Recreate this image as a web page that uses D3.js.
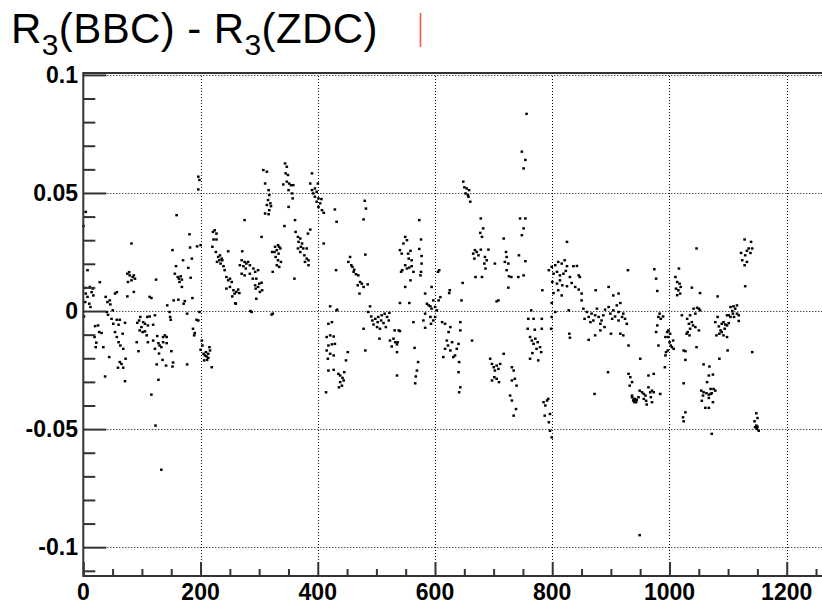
<!DOCTYPE html>
<html>
<head>
<meta charset="utf-8">
<script src="https://cdn.jsdelivr.net/npm/d3@7"></script>
<style>
body{margin:0;background:#fff;}
text{font-family:"Liberation Sans",Arial,Helvetica,sans-serif;}
</style>
</head>
<body>
<script>
//data, [run, R3(BBC)-R3(ZDC)] split by run range
var seg0 = [[0,.036],[4,.042],[7,.0173],[3,.0098],[11,.0102],[16,.0095],[4,.0074],[14,.008],[7,.006],[17,.0066],[3,.0038],[10,.0031],[12,.0017],[1,-.0023],[20,-.0064],[25,-.0061],[19,-.011],[22,-.0134],[21,-.0153],[27,-.0089],[31,-.0093],[34,-.0153],[37,-.0277],[28,.0122],
[38,.006],[41,.0038],[45,.0045],[46,.0028],[50,.0003],[54,.0074],[57,.008],[40,-.0004],[42,-.0016],[48,-.0033],[51,-.0054],[57,-.0037],[60,-.0058],[62,-.0037],[54,-.0089],[57,-.011],[60,-.0132],[63,-.0146],[67,-.0096],[68,-.016],[71,-.005],[44,-.0195],[59,-.024],[62,-.0216],[65,-.0224],[68,-.024],[72,-.0202],[71,-.0297],
[75,.0158],[78,.0165],[79,.0151],[84,.0144],[86,.0151],[76,.0123],[82,.013],[88,.0137],[82,.0286],[75,.0062],[86,.0081],
[92,-.005],[95,-.004],[97,-.0025],[99,-.0068],[102,-.0047],[105,-.0054],[96,-.0082],[101,-.0089],[105,-.0086],[108,-.0103],[91,-.0132],[94,-.017],[109,-.0025],[110,-.0061],[113,-.0023],[116,.0055],[113,.006],[119,-.0058],[122,-.0018],[124,.0133],[110,-.0132],[119,-.0125],[122,-.016],[128,-.0136],[130,-.0146],[133,-.0153],[136,-.011],[126,-.0106],[136,-.0132],[129,-.018],[139,-.0103],[142,-.011],[125,-.0226],[135,-.0207],[142,-.0136],[141,-.0231],[150,-.017],[153,-.0218],[152,-.0235],[128,-.0291],[116,-.0354],[123,-.0485],[133,-.0672],
[143,.0024],[147,-.0004],[148,-.0025],[149,-.0037],[152,.0258],[159,.0406],[154,.0045],[158,.019],[156,.0158],[161,.0144],[163,.0137],[166,.0147],[168,.0133],[164,.0123],[168,.0102],[170,.0215],[162,.0048],[173,.0042],[171,.0031],[177,-.0011],[179,.0183],[181,.0325],[182,.0269],[183,.0141],[185,.0222],[186,.0055],[187,-.0075],[177,-.0226],[190,-.0093],[189,-.0103],[193,-.0037],[194,.0274],[196,.0569],[198,.0555],[196,.0515],[196,-.004],[198,-.0004]];

var seg1 = [[200,.0279],[202,-.0125],[203,-.0146],[200,-.0164],[205,-.0181],[207,-.0188],[210,-.0192],[213,-.0181],[215,-.0153],[211,-.0207],[206,-.0209],[216,-.0167],[219,-.0238],[209,-.0174],[213,-.0198],
[221,.0335],[224,.0342],[227,.0328],[222,.0303],[227,.0303],[220,.0272],[226,.025],[230,.0229],[232,.0215],[234,.0201],[237,.0215],[239,.019],[241,.0173],[233,.0236],[236,.0222],[228,.0208],[247,.0253],[244,.0144],[247,.013],[250,.0137],[253,.0123],[244,.0095],[250,.0102],[256,.0088],[258,.0074],[261,.0081],[260,.0031],[264,.0091],[254,.0062],[266,.0076],[259,.0033],
[271,.0253],[270,.0215],[275,.0208],[278,.0201],[281,.0208],[273,.019],[277,.018],[284,.0194],[267,.0194],[270,.0158],[275,.0151],[284,.0158],[290,.018],[293,.0166],[295,.0137],[298,.0173],[289,.0137],[293,.0109],[298,.0102],[300,.0116],[301,.0081],[294,.0095],[295,.0052],[287,-.0004],[285,0],[275,.0385],[304,.0314],[304,.012],[305,.0088],
[307,.0597],[313,.059],[310,.054],[316,.0512],[317,.0491],[315,.047],[319,.0456],[313,.0449],[320,.0444],[317,.0427],[316,.041],[310,.0413],[322,.025],[323,.0166],[323,-.0011],[321,-.0015],
[327,.0272],[332,.0279],[334,.0272],[336,.0265],[330,.0258],[326,.025],[333,.0243],[328,.0229],[332,.0215],[337,.0208],[330,.0194],[334,.0187],
[344,.0625],[347,.0611],[345,.0583],[349,.0576],[341,.0536],[347,.0548],[351,.054],[354,.0533],[358,.0533],[350,.0512],[356,.0498],[357,.0477],[350,.0441],[343,.036],[361,.0385],[362,.0335],[366,.0314],[370,.0307],[367,.0293],[373,.0286],[371,.0272],[366,.0265],[375,.0265],[381,.0265],[383,.0328],[387,.0345],[370,.025],[377,.0236],[381,.0222],[384,.0215],[378,.0208],[384,.0194],[360,.0137],
[390,.0583],[387,.054],[395,.0519],[390,.0512],[398,.0505],[392,.0498],[395,.0484],[401,.0477],[398,.0463],[404,.0456],[401,.0441],[407,.0427],[410,.0416],[400,.054],[406,.0474]];

var seg2 = [[410,.0286],[418,-.0054],[421,.002],[429,.043],[432,.0378],[431,.0173],[424,-.0047],[432,.0003],[433,.0006],
[415,-.011],[421,-.0103],[427,-.0108],[418,-.0146],[424,-.0141],[429,-.0139],[415,-.0167],[421,-.0181],[417,-.0202],[427,-.0188],[418,-.0252],[427,-.0249],[414,-.0344],[435,-.0266],[438,-.0273],[442,-.0283],[445,-.0259],[438,-.0301],[441,-.0316],[436,-.0323],[444,-.0294],[448,-.0209],[451,-.0174],
[455,.0229],[452,.0208],[457,.0194],[459,.0187],[462,.0175],[461,.0166],[465,.0156],[469,.0151],[472,.0123],[468,.0109],[475,.0116],[478,.0102],[485,.0113],[471,.0074],[480,.0467],[482,.0434],[478,.0388],[481,.0239],
[489,.002],[486,-.0004],[491,-.0023],[493,-.004],[498,-.0033],[503,-.0025],[509,-.0018],[514,-.0011],[518,-.0025],[522,-.0008],[495,-.0057],[501,-.0068],[506,-.0075],[512,-.0051],[516,-.0068],[521,-.004],[502,-.0047],[508,-.004],[478,-.0075],[481,-.0167],[505,-.0117],[523,-.0125],[529,-.0117],[532,-.0132],[526,-.015],[535,-.0141],[535,-.0174],[531,-.0082],[538,-.0082],[540,-.0085],[536,-.0132],[535,-.0273],
[540,.0258],[543,.0243],[549,.0314],[552,.03],[546,.0286],[554,.0243],[558,.0255],[555,.0222],[560,.0215],[549,.0194],[544,.0173],[552,.018],[556,.0184],[560,.019],[542,.0166],[563,.0166],[558,.013],[549,.0102],[540,.0034],[556,.0034],[563,-.0047],[565,-.0156],[573,.0385],[576,.0303],[573,.0263],[577,.0233],[577,.0201],[576,.0166],[575,.0151],[571,-.0216],[569,-.0252],[567,-.0277],[566,-.0306],
[583,.0074],[586,.0031],[583,-.0011],[589,.0024],[592,.002],[594,.001],[597,.0045],[600,.0017],[594,.0102],[592,-.0025],[597,-.004],[593,-.0054],[580,-.004],[583,-.0071]];

var seg3 = [[603,.0003],[606,.0045],[609,.0059],[605,.0166],[607,.0173],[600,-.0025],[612,-.0047],[617,-.0054],[623,-.0089],[626,-.0068],[620,-.0125],[617,-.016],[614,-.0195],[622,-.0146],[626,-.0167],[629,-.0132],[631,-.0195],[624,.0076],[625,.0088],
[647,.0119],[645,.0045],[643,-.0047],[643,-.0082],[640,-.0139],[637,-.016],[634,-.0188],[641,-.0216],[640,-.0259],[643,-.0323],[641,-.0344],[663,-.0125],
[648,.0548],[650,.0524],[654,.0519],[658,.0512],[652,.0498],[656,.0491],[657,.0484],[660,.0463],
[678,.0392],[682,.035],[677,.0331],[680,.0314],[668,.0258],[665,.0243],[671,.025],[674,.0236],[678,.026],[667,.0222],[685,.0229],[688,.0215],[684,.0201],[691,.026],[686,.018],[669,.0144],[680,.0144],[702,.0201],[717,.0307],[708,.0045],[705,.0041],
[694,-.0202],[697,-.0224],[700,-.0238],[702,-.0252],[705,-.0231],[708,-.0245],[711,-.0224],[701,-.028],[705,-.0287],[709,-.0301],[697,-.0294],[717,-.0181],
[721,.025],[722,.0229],[725,.0201],[719,.0208],[722,.0173],[726,.0147],[730,.0144],[725,.0099],
[731,-.0238],[734,-.0252],[736,-.0287],[731,-.0294],[739,-.0316],[728,-.0358],[731,-.0379],[738,-.0415],[734,-.0443],
[748,.0675],[754,.064],[751,.0604],[756,.0835],[745,.0392],[754,.0392],[751,.035],[748,.0321],[743,.0236],[754,.0211],[751,.0151],[742,.0144],
[759,-.0033],[768,-.0033],[758,-.0075],[770,-.0079],[782,-.0033],[782,-.0075],[762,-.011],[765,-.0125],[771,-.0117],[775,-.0132],[768,-.0139],[779,-.0153],[773,-.016],[766,-.0178],[762,-.0202],[781,-.0174],[776,-.0209],[783,.0088],[764,.0003],
[785,-.0386],[788,-.04],[791,-.0379],[793,-.0372],[787,-.0443],[796,-.0436],[794,-.0471],[796,-.0507],[799,-.0535],
[794,.0173],[799,.0187],[799,.0034],[799,-.0025],[798,-.0075]];

var seg4 = [[805,.0194],[810,.0208],[816,.0201],[821,.0215],[825,.019],[802,.0158],[808,.0166],[813,.0151],[819,.0158],[823,.017],[830,.0144],[836,.019],[842,.0191],[845,.0151],[847,.0144],[800,.0123],[808,.0116],[813,.013],[817,.0109],[825,.0105],[833,.0119],[839,.0102],[845,.0091],[850,.0074],[810,.0088],[802,.0076],[825,.0293],[816,.0066],[805,-.0004],[828,.0003],[829,-.0096],[830,-.0113],[850,.0045],
[853,.001],[859,-.0004],[855,-.0033],[862,-.0025],[865,-.0047],[867,-.0011],[870,-.004],[876,.001],[873,-.0018],[879,-.0025],[882,-.0054],[884,-.004],[887,-.0018],[890,.0006],[889,-.0068],[896,.0017],[899,-.0011],[902,-.0033],[904,.0003],[907,-.0023],[910,.0024],[913,-.0004],[916,.0034],[919,-.0025],[921,-.0011],[924,-.0033],[927,-.0054],[913,-.004],[862,-.0122],[873,-.0103],[882,-.0082],[896,.0102],[904,.0066],[913,.0074],[874,.0088],[900,-.0096],[916,-.0096],[921,-.0103],[930,-.0146],[895,-.0259],[872,-.0351],[929,.0173],[930,-.0266],[932,-.0316],[936,-.0365],[938,-.0379],[941,-.0372],
[933,-.028],[936,-.0301],[936,-.0358],[939,-.0372],[942,-.038],[944,-.0376],[947,-.0365],[940,-.0386],[943,-.0386],[949,-.0337],[953,-.0344],[956,-.0351],[959,-.0358],[956,-.0372],[960,-.038],[964,-.0323],[967,-.0344],[970,-.0337],[973,-.0344],[968,-.0365],[961,-.0396],[964,-.0273],[973,-.0266],[984,-.0351],[950,-.0202],[970,-.0386],[949,-.0949],
[974,.0177],[977,.0137],[979,.0085],[983,-.0011],[981,-.0025],[985,-.0033],[989,-.0023],[979,-.0061],[977,-.0089],[981,-.0146],[993,-.0188],[992,-.0238],[996,-.0089],[998,-.0082],[993,-.011],[998,-.011],[994,-.0174],[997,-.0167]];

var seg5 = [[1001,-.0096],[1000,-.0132],[1002,-.0146],[1004,-.0153],[1006,-.0125],[1007,-.016],
[1016,.018],[1010,.0144],[1013,.0123],[1017,.0116],[1019,.0102],[1011,.0095],[1015,.0088],[1018,.0074],[1013,.0067],[1021,-.0018],[1024,-.0167],[1027,-.0207],[1024,-.0306],[1027,-.0429],[1023,-.045],[1024,-.0467],
[1038,.0099],[1052,.0076],[1046,.0265],[1030,-.0033],[1035,-.0018],[1041,.001],[1047,.0014],[1050,.001],[1052,.0003],[1044,-.0011],[1038,-.0047],[1033,-.0054],[1040,-.0061],[1035,-.0075],[1044,-.0068],[1031,-.0089],[1034,-.0103],[1029,-.0096],[1050,-.0082],[1046,-.0153],[1027,-.017],
[1058,-.0226],[1068,-.0235],[1067,-.0273],[1074,-.0269],[1064,-.0301],[1054,-.0337],[1058,-.0344],[1063,-.0348],[1067,-.0354],[1070,-.0351],[1072,-.0348],[1078,-.0337],[1075,-.033],[1070,-.033],[1057,-.0358],[1067,-.0368],[1055,-.038],[1074,-.0386],[1061,-.041],[1067,-.041],[1072,-.052],[1082,.0062],[1085,-.0202],
[1078,-.0047],[1082,-.0025],[1084,-.0065],[1087,-.0082],[1080,-.0103],[1085,-.0096],[1089,-.0054],[1092,-.0047],[1095,-.0057],[1098,-.0061],[1101,-.0051],[1104,-.0025],[1098,-.0018],[1094,-.0075],[1089,-.0089],[1092,-.0103],[1098,-.011],[1101,-.0018],[1107,0],[1104,.0017],[1109,.002],[1112,.001],[1115,-.0011],[1108,-.0011],[1110,-.0025],[1118,-.0018],[1118,-.0042],[1115,.0024],[1099,-.0167],
[1128,.0303],[1139,.0293],[1135,.0265],[1141,.0265],[1132,.0255],[1138,.0246],[1122,.0246],[1129,.0236],[1124,.0215],[1132,.0208],[1128,.0194],[1129,.0105],[1141,-.0174],[1148,-.0433],[1150,-.0453],[1145,-.0467],[1146,-.0492],[1149,-.0499],[1152,-.0507],[1150,-.049],[1148,-.0485]];

//tick values
var xMajor = [0,200,400,600,800,1000,1200];
var yMajor = [0.1,0.05,0,-0.05,-0.1];
var yLabels = ["0.1","0.05","0","-0.05","-0.1"];

//globals (frame edges)
var svgW=822, svgH=605;
var frameL=83.3, frameR=824.8, frameT=73, frameB=576;

var x = d3.scaleLinear().domain([0,1265]).range([frameL,frameR]);
var y = d3.scaleLinear().domain([-0.1122,0.1008]).range([frameB,frameT]);

var svg = d3.select("body").append("svg")
    .attr("width",svgW)
    .attr("height",svgH)
    .style("background","#fff");

//title
var title = svg.append("text")
    .attr("x",11)
    .attr("y",43)
    .style("font-size","42px")
    .style("letter-spacing","0.4px")
    .attr("fill","#000");
title.append("tspan").text("R");
title.append("tspan").attr("dy",12).style("font-size","30px").text("3");
title.append("tspan").attr("dy",-12).text("(BBC) - R");
title.append("tspan").attr("dy",12).style("font-size","30px").text("3");
title.append("tspan").attr("dy",-12).text("(ZDC)");

//little red mark next to the title
svg.append("line")
    .attr("x1",420.5).attr("x2",420.5)
    .attr("y1",13).attr("y2",47)
    .attr("stroke","#f05a48")
    .attr("stroke-width",1.6);

//grid
var grid = svg.append("g").attr("stroke","#000").attr("stroke-width",1).attr("stroke-dasharray","1,2");
grid.selectAll(".gx").data(xMajor.slice(1)).enter().append("line")
    .attr("x1",function(d){return Math.round(x(d))+0.5})
    .attr("x2",function(d){return Math.round(x(d))+0.5})
    .attr("y1",frameT).attr("y2",frameB);
grid.selectAll(".gy").data(yMajor).enter().append("line")
    .attr("x1",frameL).attr("x2",svgW)
    .attr("y1",function(d){return Math.round(y(d))+0.5})
    .attr("y2",function(d){return Math.round(y(d))+0.5});

//points
var allPts = seg0.concat(seg1,seg2,seg3,seg4,seg5);
svg.append("g").selectAll("rect")
    .data(allPts)
    .enter()
    .append("rect")
    .attr("x",function(d){return x(d[0])-1.2})
    .attr("y",function(d){return y(d[1])-1.2})
    .attr("width",2.6)
    .attr("height",2.4)
    .attr("fill","#000");

//y axis, ticks inside the frame
var yAxis = d3.axisRight(y)
    .tickValues(d3.range(-11,11).map(function(v){return v/100}))
    .tickSize(12)
    .tickFormat("");
var gy = svg.append("g").attr("transform","translate("+frameL+",0)").call(yAxis);
gy.select(".domain").remove();
gy.selectAll(".tick line")
    .attr("stroke","#333")
    .attr("stroke-width",2)
    .attr("x2",function(d){return yMajor.indexOf(d)>=0 ? 23 : 12});

//y labels
svg.append("g").selectAll("text")
    .data(yMajor)
    .enter()
    .append("text")
    .attr("x",78)
    .attr("y",function(d){return y(d)})
    .attr("dy","0.36em")
    .attr("text-anchor","end")
    .style("font-size","23px")
    .style("font-weight","bold")
    .text(function(d,i){return yLabels[i]});

//x axis, ticks inside the frame
var xAxis = d3.axisTop(x)
    .tickValues(d3.range(0,1300,50))
    .tickSize(7)
    .tickFormat("");
var gx = svg.append("g").attr("transform","translate(0,"+frameB+")").call(xAxis);
gx.select(".domain").remove();
gx.selectAll(".tick line")
    .attr("stroke","#333")
    .attr("stroke-width",2)
    .attr("y2",function(d){return d%200==0 ? -14 : -7});

svg.append("g").selectAll("text")
    .data(xMajor)
    .enter()
    .append("text")
    .attr("x",function(d){return x(d)})
    .attr("y",600)
    .attr("text-anchor","middle")
    .style("font-size","23px")
    .style("font-weight","bold")
    .text(function(d){return d});

//frame
svg.append("line").attr("x1",frameL).attr("x2",svgW).attr("y1",frameT).attr("y2",frameT).attr("stroke","#333").attr("stroke-width",2);
svg.append("line").attr("x1",frameL).attr("x2",svgW).attr("y1",frameB).attr("y2",frameB).attr("stroke","#333").attr("stroke-width",2);
svg.append("line").attr("x1",frameL).attr("x2",frameL).attr("y1",frameT-1).attr("y2",frameB+1).attr("stroke","#333").attr("stroke-width",2);
</script>
</body>
</html>
